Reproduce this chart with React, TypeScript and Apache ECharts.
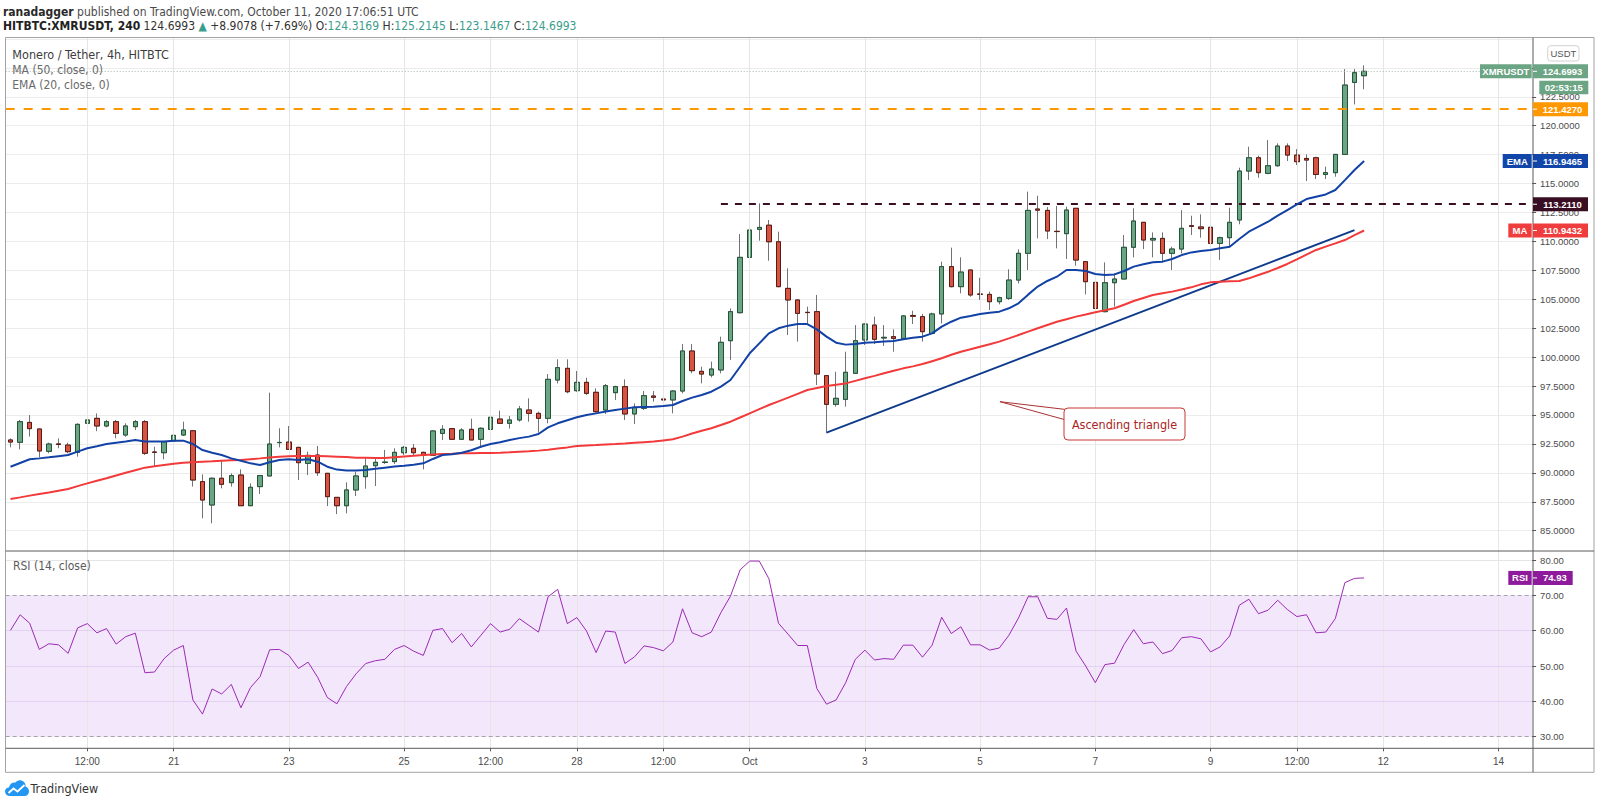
import React, { useEffect, useRef } from "react";
import * as echarts from "echarts";

// ---------- data ----------
const OPEN = [
  92.84, 92.64, 94.36, 93.79, 91.86, 92.5, 92.4, 91.77, 94.28, 94.71,
  94.05, 94.42, 93.27, 93.99, 94.42, 91.8, 91.74, 92.75, 93.27, 93.64,
  89.24, 87.22, 89.53, 89.15, 89.81, 87.16, 88.81, 89.73, 92.61, 92.66,
  92.2, 90.82, 91.54, 89.96, 87.88, 87.16, 88.52, 89.67, 90.62, 90.9,
  90.97, 91.74, 92.12, 91.77, 91.51, 93.41, 93.82, 92.9, 93.76, 92.9,
  93.76, 94.65, 94.28, 94.57, 95.43, 95.14, 94.71, 98.02, 99.03, 97.1,
  97.82, 96.96, 95.43, 96.93, 97.45, 95.09, 95.58, 96.64, 96.38, 96.3,
  97.07, 100.53, 98.77, 98.45, 98.89, 101.42, 103.84, 108.62, 111.04, 111.4,
  109.97, 105.94, 104.94, 103.87, 103.93, 98.4, 95.92, 96.35, 98.6, 101.48,
  102.77, 101.65, 101.77, 101.62, 103.6, 103.5, 102.05, 103.73, 107.82, 106.09,
  107.53, 105.45, 105.42, 104.79, 105.08, 106.66, 108.97, 112.8, 112.68, 110.87,
  110.67, 112.86, 108.25, 106.46, 103.93, 106.43, 106.75, 109.49, 111.65, 110.12,
  110.26, 108.97, 109.34, 111.36, 111.25, 111.22, 109.83, 110.32, 111.85, 116.08,
  117.23, 115.88, 116.54, 118.24, 117.46, 117.17, 117.23, 115.79, 115.94, 117.52,
  123.74, 124.3169,
];
const HIGH = [
  92.98, 94.57, 95.0, 93.79, 92.61, 92.98, 92.6, 94.28, 95.29, 95.14,
  94.57, 94.57, 94.28, 94.57, 94.57, 92.26, 92.75, 93.41, 94.42, 93.7,
  89.87, 89.61, 91.05, 89.96, 90.3, 89.09, 89.81, 96.93, 93.85, 94.05,
  92.26, 91.83, 92.32, 89.96, 87.88, 89.18, 90.1, 91.34, 91.25, 91.98,
  92.12, 92.32, 92.49, 91.83, 93.67, 94.13, 93.88, 93.85, 94.68, 93.93,
  95.26, 95.37, 94.91, 95.78, 96.44, 95.29, 98.54, 99.81, 99.81, 98.8,
  98.22, 97.3, 97.68, 97.53, 98.08, 96.0, 97.07, 97.07, 97.59, 97.16,
  101.13, 101.13, 99.17, 99.61, 101.77, 104.21, 110.64, 112.34, 113.29, 111.85,
  110.84, 107.67, 104.99, 104.36, 105.37, 98.45, 98.74, 100.47, 102.77, 102.92,
  103.5, 102.77, 102.4, 103.64, 104.01, 103.73, 103.84, 108.25, 109.46, 108.62,
  107.53, 106.86, 105.66, 105.22, 107.59, 109.31, 114.3, 113.95, 112.97, 113.06,
  113.0, 112.86, 108.25, 108.19, 108.19, 107.24, 110.55, 112.86, 111.65, 110.78,
  110.78, 109.54, 112.71, 112.22, 112.34, 111.42, 110.41, 112.91, 116.37, 118.18,
  117.41, 118.76, 118.47, 118.47, 117.98, 117.52, 117.32, 116.46, 117.52, 124.89,
  124.89, 125.2145,
];
const LOW = [
  92.2, 92.03, 93.13, 91.34, 91.69, 92.12, 91.69, 91.4, 93.41, 93.6,
  93.93, 92.98, 93.12, 93.7, 91.54, 90.53, 91.17, 92.2, 93.18, 88.81,
  86.07, 85.64, 88.66, 88.81, 87.16, 87.16, 88.17, 89.73, 92.2, 91.97,
  89.38, 89.81, 89.73, 87.13, 86.44, 86.5, 88.0, 88.63, 88.86, 90.77,
  90.77, 91.54, 91.54, 90.3, 91.46, 92.84, 92.84, 92.84, 92.84, 92.26,
  93.18, 94.28, 93.82, 94.42, 94.42, 93.47, 94.28, 97.73, 96.87, 97.01,
  96.73, 95.09, 95.09, 96.3, 94.57, 94.22, 95.43, 96.15, 95.14, 95.14,
  96.87, 98.6, 97.73, 98.25, 98.6, 99.75, 103.78, 107.9, 110.06, 108.33,
  106.03, 101.91, 101.34, 102.92, 97.59, 93.47, 95.72, 95.72, 98.54, 101.05,
  101.13, 100.96, 100.47, 101.62, 102.86, 101.34, 102.0, 102.92, 106.03, 105.51,
  105.22, 104.94, 104.07, 104.56, 104.94, 106.37, 107.53, 110.26, 110.2, 109.4,
  108.48, 107.9, 105.42, 102.2, 103.87, 104.36, 106.75, 108.62, 109.34, 108.62,
  108.19, 107.53, 108.97, 110.55, 110.32, 109.4, 108.39, 109.54, 111.48, 115.3,
  115.5, 115.8, 116.46, 116.95, 116.6, 115.22, 115.39, 115.39, 115.59, 117.52,
  121.84, 123.1467,
];
const CLOSE = [
  92.66, 94.42, 93.82, 91.89, 92.49, 92.45, 91.83, 94.19, 94.57, 94.05,
  94.42, 93.41, 94.05, 94.42, 91.69, 91.77, 92.69, 93.24, 93.7, 89.38,
  87.65, 89.53, 89.01, 89.76, 87.16, 88.75, 89.76, 92.49, 92.63, 92.03,
  90.88, 91.51, 90.01, 87.94, 87.16, 88.52, 89.73, 90.59, 90.91, 90.93,
  91.77, 92.2, 91.74, 91.51, 93.62, 93.76, 92.9, 93.7, 92.84, 93.85,
  94.8, 94.28, 94.57, 95.52, 95.14, 94.71, 98.08, 99.09, 97.01, 97.82,
  96.87, 95.29, 97.53, 97.45, 95.09, 95.66, 96.67, 96.53, 96.3, 97.07,
  100.53, 98.83, 98.54, 98.97, 101.28, 103.93, 108.62, 110.98, 111.21, 109.97,
  106.09, 104.94, 103.78, 103.85, 98.54, 95.92, 96.44, 98.69, 101.42, 102.86,
  101.54, 101.71, 101.62, 103.56, 103.53, 102.2, 103.73, 107.82, 106.09, 107.35,
  105.37, 105.43, 104.79, 105.14, 106.66, 108.97, 112.68, 112.7, 110.9, 110.85,
  112.71, 108.39, 106.52, 104.21, 106.43, 106.75, 109.49, 111.76, 110.12, 110.26,
  108.97, 109.34, 111.13, 111.3, 111.1, 109.83, 110.32, 111.65, 116.08, 117.23,
  115.94, 116.54, 118.24, 117.46, 116.89, 117.03, 115.79, 115.94, 117.52, 123.51,
  124.58, 124.6993,
];
const EMA20 = [
  90.53, 90.85, 91.17, 91.25, 91.34, 91.44, 91.54, 91.83, 92.12, 92.3,
  92.49, 92.6, 92.7, 92.84, 92.7, 92.7, 92.7, 92.78, 92.78, 92.49,
  91.97, 91.74, 91.54, 91.25, 91.05, 90.82, 90.68, 90.91, 91.11, 91.17,
  91.11, 91.17, 90.96, 90.53, 90.28, 90.2, 90.2, 90.25, 90.35, 90.45,
  90.55, 90.62, 90.7, 90.82, 91.2, 91.54, 91.6, 91.74, 91.95, 92.26,
  92.49, 92.65, 92.84, 93.0, 93.13, 93.36, 93.93, 94.28, 94.55, 94.8,
  95.0, 95.14, 95.3, 95.43, 95.55, 95.66, 95.7, 95.72, 95.78, 95.86,
  96.21, 96.5, 96.73, 97.01, 97.45, 98.02, 99.17, 100.33, 101.19, 102.05,
  102.49, 102.72, 102.86, 102.86, 102.4, 101.77, 101.25, 101.08, 101.13, 101.25,
  101.28, 101.34, 101.39, 101.54, 101.68, 101.77, 102.05, 102.63, 103.06, 103.41,
  103.55, 103.73, 103.84, 103.93, 104.22, 104.65, 105.4, 106.1, 106.58, 106.95,
  107.53, 107.53, 107.44, 107.18, 107.1, 107.15, 107.44, 107.82, 108.02, 108.19,
  108.25, 108.48, 108.82, 109.05, 109.17, 109.26, 109.4, 109.54, 110.21, 110.84,
  111.27, 111.7, 112.22, 112.71, 113.2, 113.66, 113.86, 114.06, 114.44, 115.3,
  116.17, 116.9465,
];
const MA50 = [
  87.74, 87.88, 88.03, 88.17, 88.31, 88.46, 88.6, 88.85, 89.09, 89.31,
  89.53, 89.77, 90.01, 90.23, 90.45, 90.56, 90.68, 90.78, 90.88, 90.92,
  90.96, 91.0, 91.05, 91.08, 91.11, 91.18, 91.25, 91.33, 91.4, 91.43,
  91.46, 91.46, 91.46, 91.43, 91.4, 91.36, 91.31, 91.3, 91.29, 91.28,
  91.35, 91.42, 91.48, 91.54, 91.58, 91.62, 91.65, 91.69, 91.7, 91.71,
  91.72, 91.74, 91.78, 91.83, 91.87, 91.92, 92.0, 92.1, 92.2, 92.32,
  92.36, 92.4, 92.45, 92.49, 92.54, 92.6, 92.65, 92.7, 92.8, 92.9,
  93.13, 93.4, 93.64, 93.85, 94.13, 94.42, 94.78, 95.14, 95.5, 95.86,
  96.18, 96.5, 96.83, 97.16, 97.33, 97.5, 97.62, 97.73, 97.95, 98.17,
  98.38, 98.6, 98.82, 99.03, 99.2, 99.4, 99.65, 99.9, 100.2, 100.47,
  100.68, 100.9, 101.12, 101.34, 101.62, 101.91, 102.2, 102.49, 102.78, 103.06,
  103.28, 103.5, 103.68, 103.87, 104.05, 104.22, 104.53, 104.85, 105.11, 105.37,
  105.52, 105.66, 105.85, 106.03, 106.29, 106.46, 106.52, 106.55, 106.58, 106.81,
  107.1, 107.38, 107.7, 108.05, 108.45, 108.86, 109.26, 109.55, 109.83, 110.12,
  110.55, 110.9432,
];
const RSI14 = [
  60.1, 64.5, 62.1, 54.7, 56.3, 56.0, 53.6, 60.8, 62.0, 59.4,
  60.6, 56.2, 58.3, 59.3, 48.1, 48.3, 52.1, 54.5, 55.8, 40.4,
  36.4, 43.5, 42.1, 44.8, 38.2, 43.9, 47.0, 54.6, 54.7, 53.0,
  49.3, 51.1, 46.8, 41.1, 39.3, 44.2, 47.8, 50.7, 51.5, 51.9,
  54.7, 55.8, 54.2, 53.0, 60.1, 60.6, 56.6, 59.2, 55.4, 58.7,
  62.0, 59.6, 60.4, 63.4, 61.5, 59.6, 69.6, 71.7, 62.0, 63.7,
  59.9, 53.8, 59.9, 59.6, 50.7, 52.6, 55.7, 55.2, 54.3, 56.8,
  66.2, 59.4, 58.3, 59.6, 65.1, 69.8, 77.2, 79.7, 79.7, 74.7,
  62.1, 59.0, 55.8, 55.8, 43.6, 39.2, 40.4, 45.3, 51.9, 54.5,
  51.7, 52.1, 51.9, 55.9, 55.9, 52.5, 55.9, 63.8, 59.2, 61.1,
  56.0, 56.0, 54.5, 55.1, 58.7, 63.6, 69.6, 69.6, 63.5, 63.2,
  66.4, 54.2, 50.0, 45.3, 50.4, 50.8, 56.1, 60.3, 56.3, 56.8,
  53.5, 54.4, 58.0, 58.3, 57.7, 54.0, 55.4, 58.5, 67.2, 68.9,
  64.8, 65.8, 68.6, 66.0, 64.0, 64.5, 59.4, 59.6, 63.4, 73.6,
  74.8, 74.93,
];
// category slots: 142 four-hour candles (Sep 18 04:00 .. Oct 11 16:00) + empty future slots
const SLOT_COUNT = 159;
const TICK_INDEX = [8, 17, 29, 41, 50, 59, 68, 77, 89, 101, 113, 125, 134, 143, 155];
const TICK_LABELS = ["12:00", "21", "23", "25", "12:00", "28", "12:00", "Oct", "3", "5", "7", "9", "12:00", "12", "14"];
// price level whose axis label is fully covered by the last-price tag in the reference
const HIDDEN_PRICE_LABELS = [125];
const LAST_PRICE = 124.6993;
const RESISTANCE = 121.427;
const TRIANGLE_TOP = 113.211;
const TRIANGLE_TOP_START = 74;
const TRIANGLE_BASE = [
  [85, 93.47],
  [140, 110.98],
];
const EMA_LAST = 116.9465;
const MA_LAST = 110.9432;
const RSI_LAST = 74.93;

const NARROW = "'Liberation Sans Narrow', 'DejaVu Sans Condensed', 'Liberation Sans', sans-serif";
const AXIS_FONT = "'Liberation Sans', Arial, sans-serif";

const C_UP = "#6ba583";
const C_DOWN = "#d75442";
const C_EMA = "#1242a6";
const C_MA = "#f23a3a";
const C_RSI = "#9b2ab4";
const C_DARK = "#3a0e22";
const C_ORANGE = "#ff9800";

export default function App() {
  const ref = useRef<HTMLDivElement>(null);

  useEffect(() => {
    if (!ref.current) return;
    const chart = echarts.init(ref.current, null, { renderer: "svg" });
    const cats = Array.from({ length: SLOT_COUNT }, (_, i) => String(i));
    const isTick = (i: number) => TICK_INDEX.indexOf(i) >= 0;

    const wickData = OPEN.map((o, i) => [o, CLOSE[i], LOW[i], HIGH[i]]);
    const bodyData = OPEN.map((o, i) => [o, CLOSE[i], Math.min(o, CLOSE[i]), Math.max(o, CLOSE[i])]);

    const option: any = {
      animation: false,
      backgroundColor: "#ffffff",
      textStyle: { fontFamily: AXIS_FONT },
      grid: [
        { left: 5.7, top: 38.9, width: 1526.4, height: 491.8, outerBoundsMode: "none" },
        { left: 5.7, top: 560, width: 1526.4, height: 176.7, outerBoundsMode: "none" },
        { left: 5.7, top: 37.7, width: 1526.4, height: 710.6, outerBoundsMode: "none" },
      ],
      xAxis: [
        { type: "category", gridIndex: 0, data: cats, show: false },
        { type: "category", gridIndex: 1, data: cats, show: false },
        {
          type: "category",
          gridIndex: 2,
          data: cats,
          position: "bottom",
          axisLine: { show: false },
          axisTick: { show: true, alignWithLabel: true, interval: (i: number) => isTick(i), length: 3, lineStyle: { color: "#555" } },
          axisLabel: {
            interval: (i: number) => isTick(i),
            formatter: (_v: string, i: number) => {
              const k = TICK_INDEX.indexOf(i);
              return k >= 0 ? TICK_LABELS[k] : "";
            },
            color: "#4c4c4c",
            fontSize: 10,
            margin: 8,
            fontFamily: AXIS_FONT,
          },
          splitLine: { show: false },
        },
      ],
      yAxis: [
        {
          type: "value",
          gridIndex: 0,
          position: "right",
          min: 85,
          max: 127.5,
          interval: 2.5,
          axisLine: { show: false },
          axisTick: { show: true, length: 4, lineStyle: { color: "#555" } },
          axisLabel: {
            formatter: (v: number) => (HIDDEN_PRICE_LABELS.indexOf(v) >= 0 ? "" : v.toFixed(4)),
            color: "#4c4c4c",
            fontSize: 9.5,
            margin: 8,
            showMaxLabel: false,
            fontFamily: AXIS_FONT,
          },
          splitLine: { show: true, lineStyle: { color: "#ececec", width: 1 } },
        },
        {
          type: "value",
          gridIndex: 1,
          position: "right",
          min: 30,
          max: 80,
          interval: 10,
          axisLine: { show: false },
          axisTick: { show: true, length: 4, lineStyle: { color: "#555" } },
          axisLabel: { formatter: (v: number) => v.toFixed(2), color: "#4c4c4c", fontSize: 9.5, margin: 8, fontFamily: AXIS_FONT },
          splitLine: { show: false },
        },
        { type: "value", gridIndex: 2, min: 0, max: 1, show: false },
      ],
      series: [
        {
          type: "line",
          xAxisIndex: 2,
          yAxisIndex: 2,
          data: [null],
          symbol: "none",
          silent: true,
          z: 1,
          lineStyle: { opacity: 0 },
          markLine: {
            silent: true,
            symbol: ["none", "none"],
            label: { show: false },
            lineStyle: { color: "#e6e6e6", width: 1, type: "solid" },
            data: TICK_INDEX.map((i) => ({ xAxis: i })),
          },
        },
        {
          type: "candlestick",
          xAxisIndex: 0,
          yAxisIndex: 0,
          data: wickData,
          barWidth: 5,
          silent: true,
          z: 3,
          itemStyle: { color: "#737375", color0: "#737375", borderColor: "#737375", borderColor0: "#737375", borderColorDoji: "#737375", borderWidth: 1 },
        },
        {
          type: "candlestick",
          xAxisIndex: 0,
          yAxisIndex: 0,
          data: bodyData,
          barWidth: 5,
          silent: true,
          z: 4,
          itemStyle: { color: C_UP, color0: C_DOWN, borderColor: "#225437", borderColor0: "#5b1a13", borderColorDoji: "#3a3a3a", borderWidth: 1 },
          markLine: {
            silent: true,
            symbol: ["none", "none"],
            label: { show: false },
            data: [
              { yAxis: LAST_PRICE, lineStyle: { color: "#a7b8ae", type: [1, 2], width: 1 } },
              { yAxis: RESISTANCE, lineStyle: { color: C_ORANGE, type: [9, 9], width: 2 } },
              [
                { coord: [TRIANGLE_TOP_START, TRIANGLE_TOP], lineStyle: { color: C_DARK, type: [7, 7], width: 2 } },
                { coord: [SLOT_COUNT - 1, TRIANGLE_TOP], lineStyle: { color: C_DARK, type: [7, 7], width: 2 } },
              ],
              [
                { coord: TRIANGLE_BASE[0], lineStyle: { color: "#0e3a8c", type: "solid", width: 2 } },
                { coord: TRIANGLE_BASE[1], lineStyle: { color: "#0e3a8c", type: "solid", width: 2 } },
              ],
            ],
          },
        },
        {
          type: "line",
          xAxisIndex: 0,
          yAxisIndex: 0,
          data: MA50,
          symbol: "none",
          silent: true,
          z: 5,
          lineStyle: { color: C_MA, width: 2 },
        },
        {
          type: "line",
          xAxisIndex: 0,
          yAxisIndex: 0,
          data: EMA20,
          symbol: "none",
          silent: true,
          z: 5,
          lineStyle: { color: C_EMA, width: 2 },
        },
        {
          type: "line",
          xAxisIndex: 1,
          yAxisIndex: 1,
          data: RSI14,
          symbol: "none",
          silent: true,
          z: 5,
          lineStyle: { color: C_RSI, width: 1 },
          markArea: {
            silent: true,
            itemStyle: { color: "rgba(150,40,230,0.11)" },
            data: [[{ yAxis: 30 }, { yAxis: 70 }]],
          },
          markLine: {
            silent: true,
            symbol: ["none", "none"],
            label: { show: false },
            data: [
              { yAxis: 80, lineStyle: { color: "#e6e6e6", type: "solid", width: 1 } },
              { yAxis: 60, lineStyle: { color: "rgba(140,90,190,0.16)", type: "solid", width: 1 } },
              { yAxis: 50, lineStyle: { color: "rgba(140,90,190,0.16)", type: "solid", width: 1 } },
              { yAxis: 40, lineStyle: { color: "rgba(140,90,190,0.16)", type: "solid", width: 1 } },
              { yAxis: 70, lineStyle: { color: "#a8a0ad", type: [4, 3], width: 1 } },
              { yAxis: 30, lineStyle: { color: "#a8a0ad", type: [4, 3], width: 1 } },
            ],
          },
        },
      ],
    };

    chart.setOption(option);

    const py = (v: number) => chart.convertToPixel({ yAxisIndex: 0 } as any, v) as unknown as number;
    const ry = (v: number) => chart.convertToPixel({ yAxisIndex: 1 } as any, v) as unknown as number;

    try {
      echarts.graphic.registerShape(
        "tvlogo",
        (echarts.graphic as any).extendPath(
          "M5 16 C2 16 0 14 0 11.5 C0 9 2 7.5 4 7.5 C4.5 4 7.5 2 10.5 2.5 C12 0.5 14.5 0 16.5 0.5 C19.5 1.5 21 4 20.5 6.5 C22.5 7 24 9 24 11.5 C24 14 22 16 19.5 16 Z",
          {}
        )
      );
    } catch (e) {
      /* already registered */
    }

    const els: any[] = [];
    const txt = (x: number, y: number, text: string, o: any = {}) =>
      els.push({
        type: "text",
        z: 120,
        silent: true,
        x,
        y,
        style: {
          text,
          fill: o.fill || "#4a4a4a",
          fontSize: o.fontSize || 12,
          fontFamily: o.fontFamily || NARROW,
          fontWeight: o.fontWeight || "normal",
          align: o.align || "left",
          textAlign: o.align || "left",
          verticalAlign: "middle",
          textVerticalAlign: "middle",
          rich: o.rich,
        },
      });
    const line = (x1: number, y1: number, x2: number, y2: number, stroke: string, lw = 1) =>
      els.push({ type: "line", z: 115, silent: true, shape: { x1, y1, x2, y2 }, style: { stroke, lineWidth: lw } });
    const rect = (x: number, y: number, w: number, h: number, fill: string, r = 0, stroke?: string) =>
      els.push({ type: "rect", z: 116, silent: true, shape: { x, y, width: w, height: h, r }, style: { fill, stroke: stroke || null, lineWidth: 1 } });
    const valueBox = (y: number, fill: string, label: string, w = 55) => {
      rect(1533, y - 7, w, 14, fill);
      els.push({ type: "line", z: 117, silent: true, shape: { x1: 1533, y1: y, x2: 1537, y2: y }, style: { stroke: "#ffffff", lineWidth: 1 } });
      txt(1533 + w / 2 + 2, y, label, { fill: "#ffffff", fontSize: 9.5, fontWeight: "bold", fontFamily: AXIS_FONT, align: "center" });
    };
    const nameBox = (x0: number, y: number, fill: string, label: string) => {
      rect(x0, y - 7, 1531.7 - x0, 14, fill);
      txt((x0 + 1531.7) / 2, y, label, { fill: "#ffffff", fontSize: 9.5, fontWeight: "bold", fontFamily: AXIS_FONT, align: "center" });
    };

    // frame and separators
    els.push({ type: "rect", z: 114, silent: true, shape: { x: 5.5, y: 37.5, width: 1588.5, height: 734.8 }, style: { fill: "none", stroke: "#a3a3a3", lineWidth: 1 } });
    line(1533, 37.7, 1533, 772.3, "#5a5a5a");
    line(5.7, 551, 1594, 551, "#5a5a5a");
    line(5.7, 748.3, 1594, 748.3, "#5a5a5a");

    // header
    txt(3, 11.5, "{n|ranadagger} published on TradingView.com, October 11, 2020 17:06:51 UTC", {
      fill: "#4a4a4a",
      rich: { n: { fill: "#2a2a2a", fontWeight: "bold", fontSize: 12, fontFamily: NARROW } },
    });
    txt(
      3,
      26,
      "{b|HITBTC:XMRUSDT, 240} 124.6993 {g|▲} +8.9078 (+7.69%) O:{g|124.3169} H:{g|125.2145} L:{g|123.1467} C:{g|124.6993}",
      {
        fill: "#333333",
        rich: {
          b: { fill: "#222222", fontWeight: "bold", fontSize: 12, fontFamily: NARROW },
          g: { fill: "#3b9d8c", fontSize: 12, fontFamily: NARROW },
        },
      }
    );

    // pane legends
    txt(12.3, 54.3, "Monero / Tether, 4h, HITBTC", { fill: "#3d3d3d", fontSize: 12.5 });
    txt(12.3, 69.5, "MA (50, close, 0)", { fill: "#6a6a6a" });
    txt(12.3, 85.3, "EMA (20, close, 0)", { fill: "#6a6a6a" });
    txt(13, 565.5, "RSI (14, close)", { fill: "#5a5a5a" });

    // currency button
    rect(1547.7, 45.7, 31.3, 15.3, "#ffffff", 3, "#d2d2d2");
    txt(1563.4, 53.4, "USDT", { fill: "#555555", fontSize: 9.5, fontFamily: AXIS_FONT, align: "center" });

    // price labels on the axis
    const yLast = py(LAST_PRICE);
    nameBox(1480, yLast, C_UP, "XMRUSDT");
    valueBox(yLast, C_UP, "124.6993");
    rect(1539.3, yLast + 9.4, 49, 13.6, C_UP);
    txt(1563.8, yLast + 16.2, "02:53:15", { fill: "#ffffff", fontSize: 9.5, fontWeight: "bold", fontFamily: AXIS_FONT, align: "center" });
    valueBox(py(RESISTANCE), C_ORANGE, "121.4270");
    const yEma = py(EMA_LAST);
    nameBox(1502.7, yEma, "#1146a8", "EMA");
    valueBox(yEma, "#1146a8", "116.9465");
    valueBox(py(TRIANGLE_TOP), C_DARK, "113.2110");
    const yMa = py(MA_LAST);
    nameBox(1508.3, yMa, "#ef3d3d", "MA");
    valueBox(yMa, "#ef3d3d", "110.9432");
    const yRsi = ry(RSI_LAST);
    nameBox(1508.3, yRsi, "#8e1b9c", "RSI");
    valueBox(yRsi, "#8e1b9c", "74.93", 39.7);

    // callout
    els.push({
      type: "polygon",
      z: 118,
      silent: true,
      shape: { points: [[1000, 401.7], [1066, 409.5], [1066, 420]] },
      style: { fill: "#ffffff", stroke: "#a83232", lineWidth: 1 },
    });
    els.push({
      type: "rect",
      z: 119,
      silent: true,
      shape: { x: 1064, y: 408, width: 121, height: 32, r: 4 },
      style: { fill: "#ffffff", stroke: "#c93636", lineWidth: 1 },
    });
    txt(1124.5, 424.5, "Ascending triangle", { fill: "#a82424", fontSize: 12.5, align: "center" });

    // footer logo
    els.push({ type: "tvlogo", z: 120, silent: true, x: 5, y: 780, scaleX: 1, scaleY: 1, style: { fill: "#2196f3" } });
    els.push({
      type: "polyline",
      z: 121,
      silent: true,
      shape: { points: [[3.5, 13], [8.5, 8.5], [12.5, 11.5], [19.5, 5]] },
      x: 5,
      y: 780,
      style: { stroke: "#ffffff", lineWidth: 1.8, fill: null },
    });
    txt(30.5, 788.5, "TradingView", { fill: "#333333", fontSize: 12.5 });

    chart.setOption({ graphic: { elements: els } });

    return () => chart.dispose();
  }, []);

  return (
    <div
      ref={ref}
      style={{ position: "fixed", left: 0, top: 0, width: 1600, height: 805, background: "#ffffff" }}
    />
  );
}
